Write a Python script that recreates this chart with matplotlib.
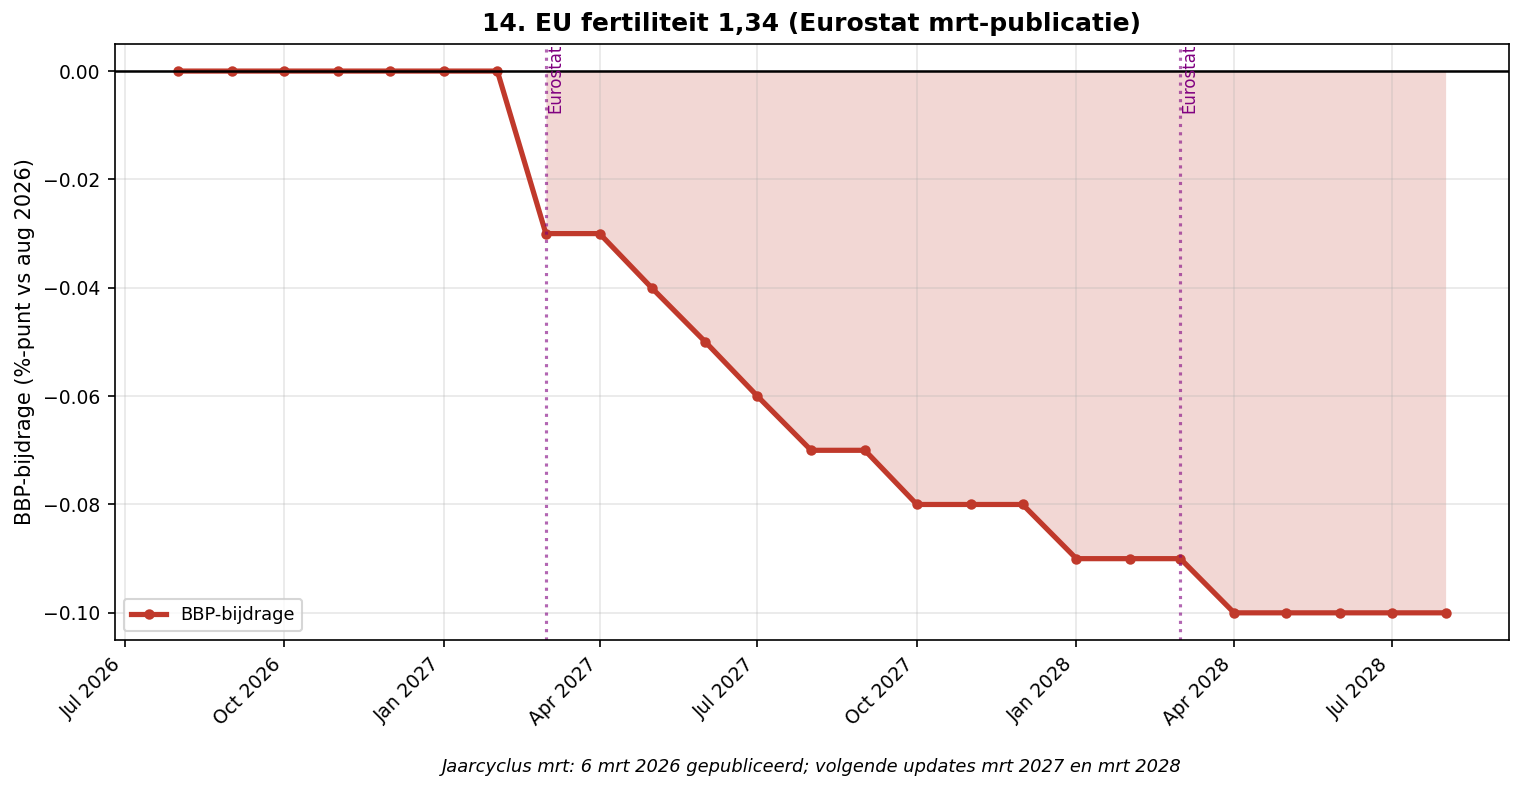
import matplotlib
matplotlib.use("Agg")
import matplotlib.pyplot as plt
import matplotlib.dates as mdates
import numpy as np
import pandas as pd

dates = pd.date_range("2026-08-01", "2028-08-01", freq="MS")
values = [0.0, 0.0, 0.0, 0.0, 0.0, 0.0, 0.0,
          -0.03, -0.03, -0.04, -0.05, -0.06, -0.07, -0.07,
          -0.08, -0.08, -0.08, -0.09, -0.09, -0.09,
          -0.10, -0.10, -0.10, -0.10, -0.10]
eurostat_dates = pd.to_datetime(["2027-03-01", "2028-03-01"])
fill_start = pd.Timestamp("2027-03-01")

title = "14. EU fertiliteit 1,34 (Eurostat mrt-publicatie)"
ylabel = "BBP-bijdrage (%-punt vs aug 2026)"
footnote = "Jaarcyclus mrt: 6 mrt 2026 gepubliceerd; volgende updates mrt 2027 en mrt 2028"

fig = plt.figure(figsize=(1523 / 150, 791 / 150), dpi=150)
ax = fig.add_axes([0.0755, 0.191, 0.9153, 0.7534])

vals = np.array(values)
mask = dates >= fill_start
ax.fill_between(dates[mask], vals[mask], 0, color="#c0392b", alpha=0.2, linewidth=0)
ax.plot(dates, vals, color="#c0392b", linewidth=2.5, marker="o", markersize=4, label="BBP-bijdrage")
ax.axhline(0, color="black", linewidth=1.2)
for d in eurostat_dates:
    ax.axvline(d, color="purple", linestyle=":", linewidth=1.5, alpha=0.6)
    ax.text(d, 1.0, "Eurostat", transform=ax.get_xaxis_transform(), rotation=90,
            va="top", ha="left", fontsize=8, color="purple")

ax.grid(True, alpha=0.3)
ax.set_ylim(-0.105, 0.005)
ax.xaxis.set_major_locator(mdates.MonthLocator(bymonth=[1, 4, 7, 10]))
ax.xaxis.set_major_formatter(mdates.DateFormatter("%b %Y"))
plt.setp(ax.get_xticklabels(), rotation=45, ha="right")
ax.tick_params(labelsize=9)
ax.set_ylabel(ylabel, fontsize=10)
ax.set_title(title, fontsize=12, fontweight="bold")
ax.legend(loc="lower left", fontsize=8.5)
fig.text(0.0755 + 0.9153 / 2, 0.03, footnote, ha="center", va="center", fontsize=8.6, style="italic")

fig.savefig("out.png", dpi=150)
